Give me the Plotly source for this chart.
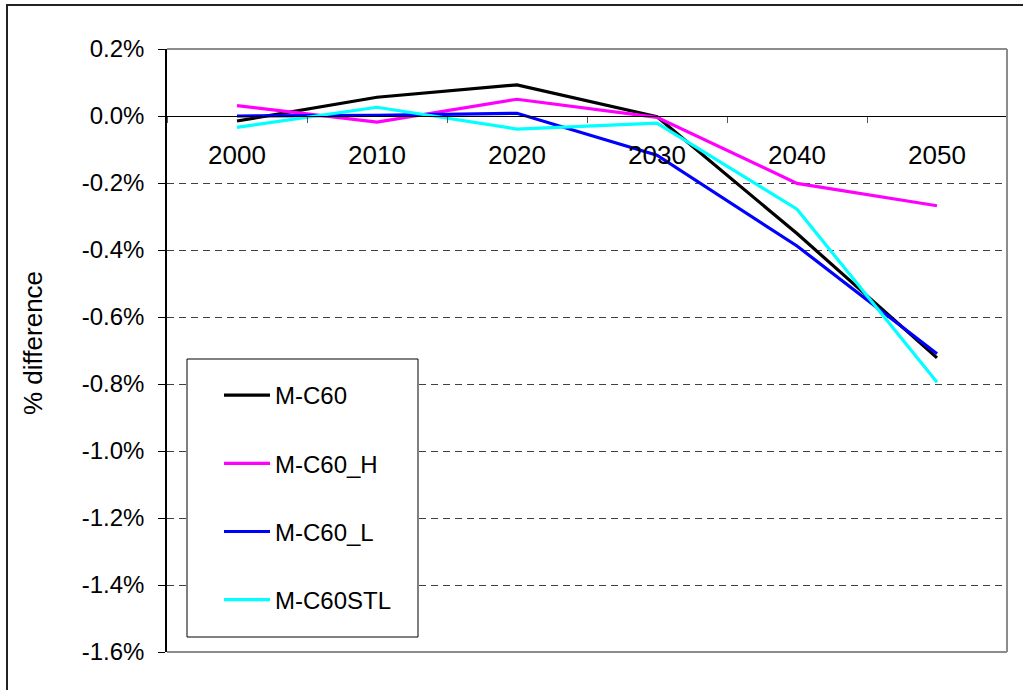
import plotly.graph_objects as go

# ---- data ----
years = ["2000", "2010", "2020", "2030", "2040", "2050"]
m_c60 = [-0.015, 0.056, 0.093, -0.002, -0.351, -0.722]
m_c60_h = [0.031, -0.018, 0.050, -0.004, -0.201, -0.268]
m_c60_l = [0.000, 0.002, 0.008, -0.117, -0.388, -0.710]
m_c60stl = [-0.034, 0.026, -0.039, -0.021, -0.278, -0.795]

series_names = ["M-C60", "M-C60_H", "M-C60_L", "M-C60STL"]
series_colors = ["#000000", "#FF00FF", "#0000FF", "#00FFFF"]

y_tick_vals = [0.2, 0.0, -0.2, -0.4, -0.6, -0.8, -1.0, -1.2, -1.4, -1.6]
y_tick_labels = ["0.2%", "0.0%", "-0.2%", "-0.4%", "-0.6%", "-0.8%",
                 "-1.0%", "-1.2%", "-1.4%", "-1.6%"]
y_range = [-1.6, 0.2]
y_title = "% difference"

FONT = "Liberation Sans, Arial, sans-serif"

fig = go.Figure()
for i, (name, vals) in enumerate(zip(series_names, [m_c60, m_c60_h, m_c60_l, m_c60stl])):
    fig.add_trace(go.Scatter(
        x=years, y=vals, name=name, mode="lines",
        line=dict(color=series_colors[i], width=3.2),
        legendgroup=f"g{i}",
    ))

W, H = 1023, 690
L, R, T, B = 167, 16, 49, 38
pw, ph = W - L - R, H - T - B

def px_x(x):
    return (x - L) / pw

def px_y(y):
    return (H - B - y) / ph

zero_pos = (0 - y_range[0]) / (y_range[1] - y_range[0])

fig.update_layout(
    width=W, height=H,
    margin=dict(l=L, r=R, t=T, b=B, pad=0),
    paper_bgcolor="white", plot_bgcolor="white",
    font=dict(family=FONT, color="black"),
    showlegend=True,
    legend=dict(
        x=px_x(219), y=px_y(373), xanchor="left", yanchor="top",
        bgcolor="rgba(0,0,0,0)", borderwidth=0,
        font=dict(size=24, family=FONT),
        tracegroupgap=34, traceorder="grouped",
        itemwidth=46,
    ),
    xaxis=dict(
        type="category",
        range=[-0.5, 5.5],
        anchor="free", position=zero_pos,
        showline=True, linecolor="black", linewidth=1,
        ticks="outside", ticklen=6, tickcolor="#555555", tickwidth=1,
        tickson="boundaries",
        showgrid=False, zeroline=False,
        tickfont=dict(size=26, family=FONT),
        ticklabelstandoff=16,
    ),
    yaxis=dict(
        range=y_range,
        tickvals=y_tick_vals, ticktext=y_tick_labels,
        showline=True, linecolor="black", linewidth=1.5,
        ticks="outside", ticklen=7, tickcolor="black", tickwidth=1,
        showgrid=True, gridcolor="#404040", gridwidth=1, griddash="7px,5px",
        zeroline=False,
        tickfont=dict(size=24, family=FONT),
        ticklabelstandoff=9,
    ),
    annotations=[dict(
        text=y_title, textangle=-90, showarrow=False,
        xref="paper", yref="paper", x=px_x(33), y=px_y(343),
        xanchor="center", yanchor="middle",
        font=dict(size=26, family=FONT, color="black"),
    )],
    shapes=[
        # plot area border (top, right, bottom) in grey
        dict(type="line", xref="x domain", yref="y domain", x0=0, x1=1, y0=1, y1=1,
             line=dict(color="#8c8c8c", width=2), layer="above"),
        dict(type="line", xref="x domain", yref="y domain", x0=1, x1=1, y0=0, y1=1,
             line=dict(color="#8c8c8c", width=2), layer="above"),
        dict(type="line", xref="x domain", yref="y domain", x0=0, x1=1, y0=0, y1=0,
             line=dict(color="#8c8c8c", width=2), layer="above"),
        # legend box
        dict(type="rect", xref="paper", yref="paper",
             x0=px_x(187), x1=px_x(418), y0=px_y(637), y1=px_y(359),
             line=dict(color="black", width=1), fillcolor="white",
             layer="above"),
        # outer chart border
        dict(type="rect", xref="paper", yref="paper",
             x0=px_x(7), x1=px_x(1040), y0=px_y(720), y1=px_y(5),
             line=dict(color="#222222", width=2), fillcolor="rgba(0,0,0,0)",
             layer="below"),
    ],
)

fig.write_html(
    "out.html",
    config={"displayModeBar": False},
    post_script="document.body.style.margin='0';document.body.style.overflow='hidden';",
)
